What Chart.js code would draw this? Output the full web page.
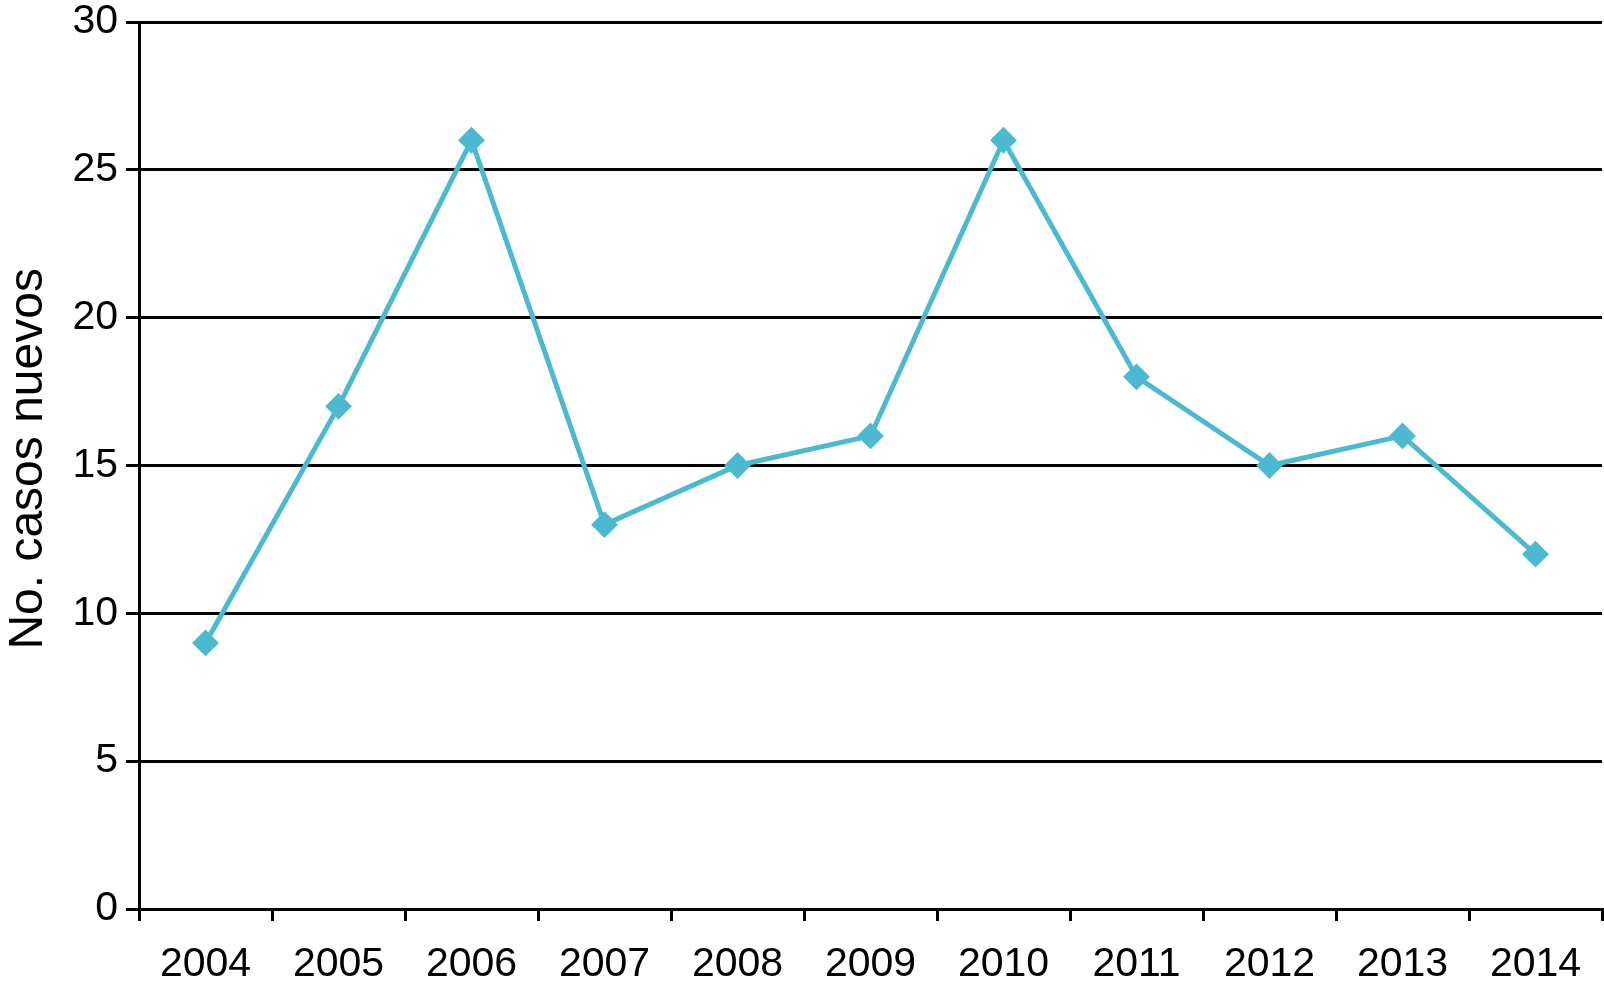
<!DOCTYPE html>
<html>
<head>
<meta charset="utf-8">
<script src="https://cdn.jsdelivr.net/npm/chart.js@4/dist/chart.umd.min.js"></script>
<style>
  html, body { margin: 0; padding: 0; background: #ffffff; }
  #wrap { width: 1604px; height: 986px; position: relative; }
</style>
</head>
<body>
<div id="wrap"><canvas id="c" width="1604" height="986"></canvas></div>
<script>
const years = ['2004', '2005', '2006', '2007', '2008', '2009', '2010', '2011', '2012', '2013', '2014'];
const newCases = [9, 17, 26, 13, 15, 16, 26, 18, 15, 16, 12];
const yTicks = [0, 5, 10, 15, 20, 25, 30];
const yTitle = '\u00a0No. casos nuevos';

const lineColor = '#4bbad1';
const fontFamily = '"Liberation Sans", Arial, Helvetica, sans-serif';

new Chart(document.getElementById('c'), {
  type: 'line',
  data: {
    labels: years,
    datasets: [{
      data: newCases,
      borderColor: lineColor,
      backgroundColor: lineColor,
      borderWidth: 5,
      pointStyle: 'rectRot',
      pointRadius: 12,
      pointBorderWidth: 2,
      pointBackgroundColor: lineColor,
      pointBorderColor: lineColor,
      tension: 0,
      fill: false,
      clip: false
    }]
  },
  options: {
    responsive: false,
    animation: false,
    devicePixelRatio: 1,
    layout: { autoPadding: false, padding: { top: 22, right: 2, left: 0, bottom: 0 } },
    plugins: { legend: { display: false }, tooltip: { enabled: false } },
    scales: {
      x: {
        type: 'category',
        offset: true,
        grid: {
          offset: true,
          drawOnChartArea: false,
          drawTicks: true,
          tickLength: 12,
          color: '#000',
          lineWidth: 3
        },
        border: { display: true, color: '#000', width: 3 },
        ticks: {
          color: '#000',
          font: { family: fontFamily, size: 41 },
          padding: 19,
          maxRotation: 0,
          autoSkip: false
        },
        afterFit: (scale) => {
          scale.height = 77;
          scale.paddingLeft = 0;
          scale.paddingRight = 0;
        }
      },
      y: {
        min: 0,
        max: 30,
        afterBuildTicks: (scale) => { scale.ticks = yTicks.map(v => ({ value: v })); },
        grid: {
          color: '#000',
          lineWidth: 3,
          drawTicks: true,
          tickLength: 13
        },
        border: { display: true, color: '#000', width: 3 },
        ticks: {
          color: '#000',
          font: { family: fontFamily, size: 41 },
          padding: 8
        },
        title: {
          display: true,
          text: yTitle,
          color: '#000',
          font: { family: fontFamily, size: 48 },
          padding: { top: 0, bottom: 0 }
        },
        afterFit: (scale) => {
          scale.width = 139;
          scale.paddingTop = 0;
          scale.paddingBottom = 0;
        }
      }
    }
  }
});
</script>
</body>
</html>
